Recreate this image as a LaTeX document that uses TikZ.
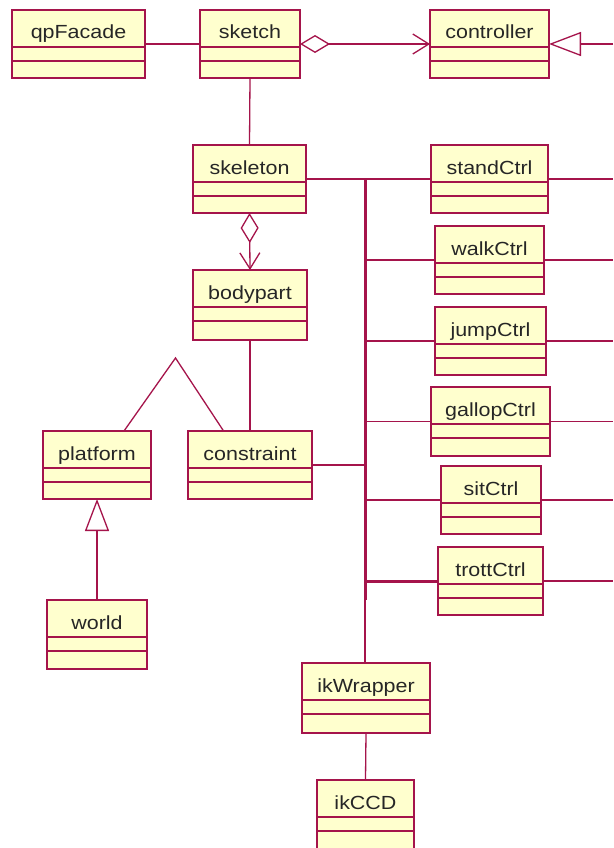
\documentclass[tikz,border=0pt]{standalone}
\usepackage{fontspec}
\setmainfont{Liberation Sans}[FakeStretch=1.13]
\usetikzlibrary{arrows.meta,calc}

\definecolor{umlline}{RGB}{165,20,75}
\definecolor{umlfill}{RGB}{255,255,206}

\tikzset{
  classbox/.style={draw=umlline, fill=umlfill, line width=1.4pt, inner sep=0pt, outer sep=0pt, anchor=north west},
  compart/.style={draw=umlline, line width=1.4pt},
  classname/.style={anchor=base, font=\fontsize{19}{21}\selectfont, text=black!85, inner sep=0pt},
  assoc/.style={draw=umlline, line width=1.3pt},
  busline/.style={draw=umlline, line width=3pt},
  aggr/.style={assoc, {Diamond[open,length=30pt,width=18pt]}-{Straight Barb[length=16pt,width=20pt]}},
  gen/.style={assoc, -{Triangle[open,length=32pt,width=24pt,fill=white]}},
}

% UML class: name, left, top, right, bottom, label
\newcommand\umlclass[6]{%
  \node[classbox, minimum width={#4-#2}, minimum height={#5-#3}] (#1) at (#2,#3) {};
  \draw[compart] ($(#1.north west)+(0,37)$) -- ($(#1.north east)+(0,37)$);
  \draw[compart] ($(#1.north west)+(0,51)$) -- ($(#1.north east)+(0,51)$);
  \node[classname] (#1-label) at ($(#1.north)+(0,29)$) {#6};
}

\begin{document}
\begin{tikzpicture}[x=1pt,y=-1pt]
  \useasboundingbox[fill=white] (0,0) rectangle (613,848);

  % classes
  \umlclass{qpFacade}{12}{10}{145}{78}{qpFacade}
  \umlclass{sketch}{200}{10}{300}{78}{sketch}
  \umlclass{controller}{430}{10}{549}{78}{controller}
  \umlclass{skeleton}{193}{145}{306}{213}{skeleton}
  \umlclass{bodypart}{193}{270}{307}{340}{bodypart}
  \umlclass{platform}{43}{431}{151}{499}{platform}
  \umlclass{constraint}{188}{431}{312}{499}{constraint}
  \umlclass{world}{47}{600}{147}{669}{world}
  \umlclass{standCtrl}{431}{145}{548}{213}{standCtrl}
  \umlclass{walkCtrl}{435}{226}{544}{294}{walkCtrl}
  \umlclass{jumpCtrl}{435}{307}{546}{375}{jumpCtrl}
  \umlclass{gallopCtrl}{431}{387}{550}{456}{gallopCtrl}
  \umlclass{sitCtrl}{441}{466}{541}{534}{sitCtrl}
  \umlclass{trottCtrl}{438}{547}{543}{615}{trottCtrl}
  \umlclass{ikWrapper}{302}{663}{430}{733}{ikWrapper}
  \umlclass{ikCCD}{317}{780}{414}{850}{ikCCD}

  % helper points
  \coordinate (rightEdge) at (613,0);
  \coordinate (busTop) at (365,179);
  \coordinate (busBot) at (365,600);
  \coordinate (apex) at (175.5,358);

  % top row
  \draw[assoc] (qpFacade.east) -- (sketch.west);
  \draw[aggr] (sketch.east) -- (controller.west);
  \draw[gen] (controller.east -| rightEdge) -- (controller.east);

  % left column
  \draw[assoc] (sketch.south) -- (skeleton.north);
  \draw[aggr] (skeleton.south) -- (bodypart.north);
  \draw[assoc] (bodypart.south) -- (constraint.north);
  \draw[assoc] ($(platform.north west)!0.75!(platform.north east)$) -- (apex)
               -- ($(constraint.north west)!0.287!(constraint.north east)$);
  \draw[gen] (world.north) -- (platform.south);

  % controller bus
  \draw[assoc] (skeleton.east) -- (busTop);
  \draw[busline] (busTop) -- (busBot);
  \draw[assoc] (constraint.east) -- (busTop |- constraint.east);
  \foreach \c in {standCtrl,walkCtrl,jumpCtrl,gallopCtrl,sitCtrl} {
    \draw[assoc] (busTop |- \c.west) -- (\c.west);
    \draw[assoc] (\c.east) -- (\c.east -| rightEdge);
  }
  \draw[busline] (busTop |- trottCtrl.west) -- (trottCtrl.west);
  \draw[assoc] (trottCtrl.east) -- (trottCtrl.east -| rightEdge);

  % ik chain
  \draw[assoc] (busBot) -- (busBot |- ikWrapper.north);
  \draw[assoc] (ikWrapper.south) -- (ikCCD.north);
\end{tikzpicture}
\end{document}
